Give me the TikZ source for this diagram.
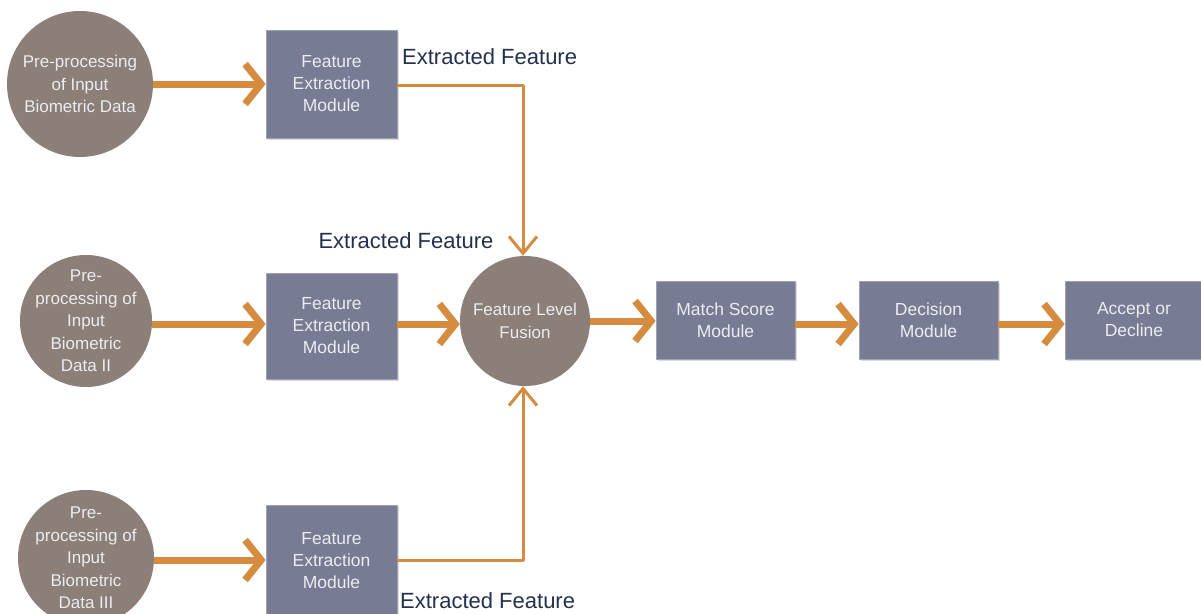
\documentclass[tikz,border=0pt]{standalone}
\usepackage{fontspec}
\setmainfont{Liberation Sans}
\usetikzlibrary{arrows.meta,shadows}
\definecolor{circfill}{RGB}{139,127,119}
\definecolor{boxfill}{RGB}{119,123,147}
\definecolor{boxedge}{RGB}{160,163,184}
\definecolor{nodetext}{RGB}{236,236,242}
\definecolor{arrcol}{RGB}{214,140,62}
\definecolor{labcol}{RGB}{38,48,78}
\tikzset{
  circnode/.style={circle,fill=circfill,draw=none,text=nodetext,align=center,inner sep=-30pt,
    font=\fontsize{17}{22.5}\selectfont},
  boxnode/.style={rectangle,fill=boxfill,draw=boxedge,line width=0.8pt,text=nodetext,align=center,
    inner sep=0pt,font=\fontsize{17.5}{22}\selectfont,
    drop shadow={shadow xshift=2pt,shadow yshift=-2pt,fill=black!35,opacity=0.4}},
  thickarrow/.style={draw=arrcol,line width=7pt,
    -{Straight Barb[length=16pt,width=40pt,line width=7pt]}},
  thinarrow/.style={draw=arrcol,line width=3pt,line join=round,
    -{Straight Barb[length=17pt,width=28pt,line width=3pt]}},
  lab/.style={text=labcol,font=\fontsize{22}{24}\selectfont,inner sep=0pt}
}
\begin{document}
\begin{tikzpicture}[x=1pt,y=-1pt]
\useasboundingbox (0,0) rectangle (1201,613);
\fill[white] (0,0) rectangle (1201,613);
% left circles
\node[circnode,minimum size=146pt] (c1) at (80,84) {Pre-processing\\of Input\\Biometric Data};
\node[circnode,minimum size=132pt] (c2) at (86,321) {Pre-\\processing of\\Input\\Biometric\\Data II};
\node[circnode,minimum size=136pt] (c3) at (86,558) {Pre-\\processing of\\Input\\Biometric\\Data III};
% feature extraction boxes
\node[boxnode,minimum width=131pt,minimum height=108pt] (b1) at (331.5,84) {Feature\\Extraction\\Module};
\node[boxnode,minimum width=131pt,minimum height=106pt] (b2) at (331.5,326) {Feature\\Extraction\\Module};
\node[boxnode,minimum width=131pt,minimum height=112pt] (b3) at (331.5,561) {Feature\\Extraction\\Module};
% fusion
\node[circnode,minimum size=130pt] (f) at (525,321) {Feature Level\\Fusion};
% right chain
\node[boxnode,minimum width=139pt,minimum height=78pt] (m) at (725.5,320) {Match Score\\Module};
\node[boxnode,minimum width=139pt,minimum height=78pt] (d) at (928.5,320) {Decision\\Module};
\node[boxnode,minimum width=138pt,minimum height=78pt] (a) at (1134,320) {Accept or\\Decline};
% connectors
\draw[thickarrow] (c1.east |- 0,84) -- (b1.west |- 0,84);
\draw[thickarrow] (c2.east |- 0,324) -- (b2.west |- 0,324);
\draw[thickarrow] (c3.east |- 0,560) -- (b3.west |- 0,560);
\draw[thickarrow] (b2.east |- 0,324) -- (f.west |- 0,324);
\draw[thickarrow] (f.east |- 0,321) -- (m.west |- 0,321);
\draw[thickarrow] (m.east |- 0,324) -- (d.west |- 0,324);
\draw[thickarrow] (d.east |- 0,324) -- (a.west |- 0,324);
\coordinate (k1) at (523,85);
\coordinate (k3) at (523,560);
\draw[thinarrow] (b1.east |- k1) -- (k1) -- (k1 |- f.north);
\draw[thinarrow] (b3.east |- k3) -- (k3) -- (k3 |- f.south);
% labels
\node[lab,anchor=west] (l1) at (402,57) {Extracted Feature};
\node[lab] (l2) at (406,241) {Extracted Feature};
\node[lab,anchor=west] (l3) at (400,601) {Extracted Feature};
\end{tikzpicture}
\end{document}
